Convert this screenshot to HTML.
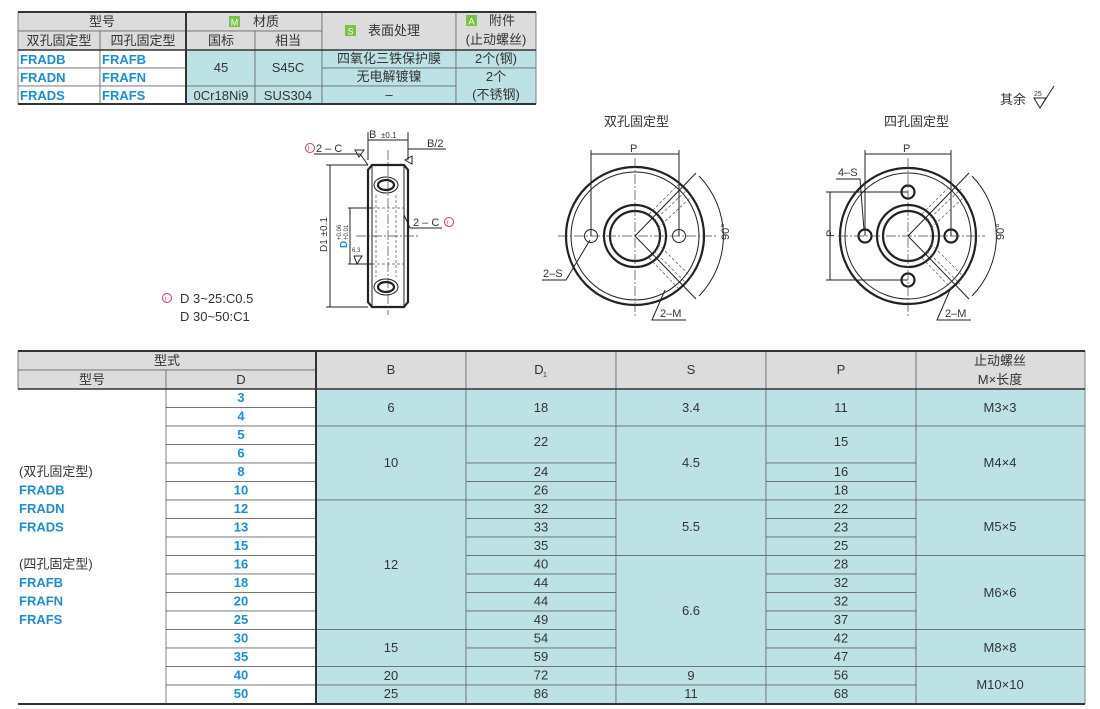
<!DOCTYPE html>
<html><head><meta charset="utf-8"><style>
html,body{margin:0;padding:0;background:#fff;width:1100px;height:709px;overflow:hidden}
svg{display:block}
text{font-family:"Liberation Sans","Noto Sans CJK SC",sans-serif;fill:#333}
text.b,.b text{fill:#1a8fd6;font-weight:bold}
.c{fill:#bde2e6;stroke:#666;stroke-width:0.8}
.w{fill:#fff;stroke:#666;stroke-width:0.8}
.h{fill:#dcdcdc;stroke:#666;stroke-width:0.8}
.l{stroke:#222;fill:none;stroke-width:1}
.t{stroke:#222;fill:none;stroke-width:2.2}
.d{stroke:#444;fill:none;stroke-width:0.7;stroke-dasharray:10 2 2 2}
.hd{stroke:#555;fill:none;stroke-width:0.7;stroke-dasharray:3 2}
</style></head><body>
<svg width="1100" height="709" viewBox="0 0 1100 709" font-size="13">
<!-- TOP TABLE -->
<g text-anchor="middle">
<rect class="h" x="18" y="12" width="168" height="19"/>
<rect class="h" x="18" y="31" width="82" height="19"/><rect class="h" x="100" y="31" width="86" height="19"/>
<rect class="h" x="186" y="12" width="136" height="19"/>
<rect class="h" x="186" y="31" width="69" height="19"/><rect class="h" x="255" y="31" width="67" height="19"/>
<rect class="h" x="322" y="12" width="134" height="38"/><rect class="h" x="456" y="12" width="80" height="38"/>
<text x="102" y="26">型号</text><text x="59" y="45">双孔固定型</text><text x="143" y="45">四孔固定型</text>
<rect x="229" y="16" width="11" height="11" fill="#7cc242"/><text x="234.5" y="25.5" font-size="9" style="fill:#fff">M</text><text x="266" y="26">材质</text>
<text x="221" y="45">国标</text><text x="288" y="45">相当</text>
<rect x="345" y="25" width="11" height="11" fill="#7cc242"/><text x="350.5" y="34.5" font-size="9" style="fill:#fff">S</text><text x="394" y="35">表面处理</text>
<rect x="466" y="15" width="11" height="11" fill="#7cc242"/><text x="471.5" y="24.5" font-size="9" style="fill:#fff">A</text><text x="502" y="25">附件</text>
<text x="496" y="44">(止动螺丝)</text>
<rect class="w" x="18" y="50" width="82" height="18"/><rect class="w" x="100" y="50" width="86" height="18"/>
<rect class="w" x="18" y="68" width="82" height="18"/><rect class="w" x="100" y="68" width="86" height="18"/>
<rect class="w" x="18" y="86" width="82" height="18"/><rect class="w" x="100" y="86" width="86" height="18"/>
<text class="b" text-anchor="start" x="20" y="64">FRADB</text><text class="b" text-anchor="start" x="102" y="64">FRAFB</text>
<text class="b" text-anchor="start" x="20" y="82">FRADN</text><text class="b" text-anchor="start" x="102" y="82">FRAFN</text>
<text class="b" text-anchor="start" x="20" y="100">FRADS</text><text class="b" text-anchor="start" x="102" y="100">FRAFS</text>
<rect class="c" x="186" y="50" width="69" height="36"/><rect class="c" x="255" y="50" width="67" height="36"/>
<rect class="c" x="186" y="86" width="69" height="18"/><rect class="c" x="255" y="86" width="67" height="18"/>
<rect class="c" x="322" y="50" width="134" height="18"/><rect class="c" x="322" y="68" width="134" height="18"/><rect class="c" x="322" y="86" width="134" height="18"/>
<rect class="c" x="456" y="50" width="80" height="18"/><rect class="c" x="456" y="68" width="80" height="36"/>
<text x="221" y="72">45</text><text x="288" y="72">S45C</text>
<text x="221" y="100">0Cr18Ni9</text><text x="288" y="100">SUS304</text>
<text x="389" y="63">四氧化三铁保护膜</text><text x="389" y="81">无电解镀镍</text><text x="389" y="99">–</text>
<text x="496" y="63">2个(钢)</text><text x="496" y="81">2个</text><text x="496" y="99">(不锈钢)</text>
</g>
<line x1="18" y1="12" x2="536" y2="12" stroke="#333" stroke-width="2"/>
<line x1="18" y1="50" x2="536" y2="50" stroke="#333" stroke-width="1.5"/>
<line x1="18" y1="104" x2="536" y2="104" stroke="#333" stroke-width="2"/>
<line x1="186" y1="12" x2="186" y2="104" stroke="#333" stroke-width="2"/>

<!-- 其余 -->
<text x="1000" y="104">其余</text><text x="1034" y="96" font-size="7">25</text>
<path class="l" d="M1034 98 L1046 98 L1040 108 Z M1040 108 L1054 86"/>

<!-- SIDE VIEW -->
<g font-size="12">
<path class="t" d="M372 165 L404 165 L408 170 L408 302 L404 307 L372 307 L368 302 L368 170 Z"/>
<line class="l" x1="372" y1="165" x2="372" y2="307"/><line class="l" x1="404" y1="165" x2="404" y2="307"/>
<line class="d" x1="388" y1="150" x2="388" y2="315"/><line class="d" x1="356" y1="236" x2="420" y2="236"/>
<ellipse class="t" cx="386" cy="185" rx="8" ry="5"/><ellipse class="l" cx="386" cy="185" rx="12" ry="8"/>
<ellipse class="t" cx="386" cy="287" rx="8" ry="5"/><ellipse class="l" cx="386" cy="287" rx="12" ry="8"/>
<line class="hd" x1="372" y1="208" x2="404" y2="208"/><line class="hd" x1="372" y1="264" x2="404" y2="264"/>
<line class="hd" x1="376" y1="195" x2="376" y2="277"/><line class="hd" x1="396" y1="195" x2="396" y2="277"/>
<line class="l" x1="348" y1="208" x2="372" y2="208"/><line class="l" x1="348" y1="264" x2="372" y2="264"/>
<line class="l" x1="350" y1="208" x2="350" y2="264"/>
<line class="l" x1="326" y1="165" x2="368" y2="165"/><line class="l" x1="326" y1="307" x2="368" y2="307"/>
<line class="l" x1="330" y1="165" x2="330" y2="307"/>
<line class="l" x1="368" y1="160" x2="368" y2="132"/><line class="l" x1="408" y1="160" x2="408" y2="132"/>
<line class="l" x1="368" y1="140" x2="408" y2="140"/><line class="l" x1="408" y1="149" x2="446" y2="149"/>
<text x="369" y="138" font-size="11">B</text><text x="381" y="138" font-size="8">±0.1</text>
<text x="427" y="147" font-size="11">B/2</text>
<text x="327" y="252" font-size="10" transform="rotate(-90 327 252)">D1 ±0.1</text>
<text x="347" y="248" font-size="10" class="b" transform="rotate(-90 347 248)">D</text>
<text x="341" y="240" font-size="6" transform="rotate(-90 341 240)">+0.06</text>
<text x="348" y="240" font-size="6" transform="rotate(-90 348 240)">+0.01</text>
<path class="l" d="M355 150 L364 150 L359 157 Z M354 256 L362 256 L357 264 Z M412 156 L412 164 L405 160 Z"/>
<text x="352" y="252" font-size="6">6.3</text>
<circle cx="310" cy="148" r="4.5" fill="none" stroke="#e0306a"/><text x="307.5" y="151" font-size="7" style="fill:#e0306a">!</text>
<text x="316" y="152" font-size="11">2 – C</text>
<line class="l" x1="314" y1="154" x2="360" y2="154"/><line class="l" x1="360" y1="154" x2="368" y2="165"/>
<text x="413" y="226" font-size="11">2 – C</text>
<circle cx="449" cy="222" r="4.5" fill="none" stroke="#e0306a"/><text x="446.5" y="225.5" font-size="7" style="fill:#e0306a">!</text>
<line class="l" x1="410" y1="228" x2="442" y2="228"/><line class="l" x1="410" y1="228" x2="404" y2="215"/>
<circle cx="167" cy="298" r="4.5" fill="none" stroke="#e0306a"/><text x="164.5" y="301.5" font-size="7" style="fill:#e0306a">!</text>
<text x="180" y="303" font-size="13">D 3~25:C0.5</text><text x="180" y="321" font-size="13">D 30~50:C1</text>
</g>

<!-- 双孔 -->
<text x="604" y="126" font-size="13">双孔固定型</text>
<g>
<circle class="t" cx="635" cy="236" r="69"/><circle class="l" cx="635" cy="236" r="64"/>
<circle class="t" cx="635" cy="236" r="31"/><circle class="t" cx="635" cy="236" r="25"/>
<circle class="l" cx="591" cy="236" r="6.5"/><circle class="l" cx="679" cy="236" r="6.5"/>
<line class="d" x1="558" y1="236" x2="716" y2="236"/><line class="d" x1="635" y1="158" x2="635" y2="318"/>
<line class="l" x1="591" y1="236" x2="591" y2="150"/><line class="l" x1="679" y1="236" x2="679" y2="150"/>
<line class="l" x1="591" y1="154" x2="679" y2="154"/><text x="630" y="152" font-size="11">P</text>
<line class="l" x1="635" y1="236" x2="696" y2="173"/><line class="l" x1="635" y1="236" x2="696" y2="299"/>
<path class="l" d="M699 176 A86 86 0 0 1 699 296"/>
<text x="722" y="247" font-size="11" transform="rotate(-90 722 240)">90°</text>
<path class="hd" d="M649 214 L681 182 M654 221 L688 189 M658 228 L692 196 M649 258 L679 289 M654 251 L687 284 M658 244 L691 277"/>
<text x="543" y="277" font-size="11">2–S</text><path class="l" d="M542 280 L566 280 L590 240"/>
<text x="660" y="317" font-size="11">2–M</text><path class="l" d="M686 320 L652 320 L665 290"/>
</g>

<!-- 四孔 -->
<text x="884" y="126" font-size="13">四孔固定型</text>
<g>
<circle class="t" cx="908" cy="236" r="68"/><circle class="l" cx="908" cy="236" r="63"/>
<circle class="t" cx="908" cy="236" r="31"/><circle class="t" cx="908" cy="236" r="25"/>
<circle class="t" cx="865" cy="236" r="6.5"/><circle class="t" cx="951" cy="236" r="6.5"/>
<circle class="t" cx="908" cy="192" r="6.5"/><circle class="t" cx="908" cy="280" r="6.5"/>
<line class="d" x1="838" y1="236" x2="985" y2="236"/><line class="d" x1="908" y1="158" x2="908" y2="318"/>
<line class="l" x1="865" y1="236" x2="865" y2="150"/><line class="l" x1="951" y1="236" x2="951" y2="150"/>
<line class="l" x1="865" y1="154" x2="951" y2="154"/><text x="903" y="152" font-size="11">P</text>
<line class="l" x1="908" y1="192" x2="826" y2="192"/><line class="l" x1="908" y1="280" x2="826" y2="280"/>
<line class="l" x1="830" y1="192" x2="830" y2="280"/><text x="835" y="242" font-size="11" transform="rotate(-90 832 240)">P</text>
<line class="l" x1="908" y1="236" x2="969" y2="173"/><line class="l" x1="908" y1="236" x2="969" y2="299"/>
<path class="l" d="M972 176 A86 86 0 0 1 972 296"/>
<text x="997" y="247" font-size="11" transform="rotate(-90 997 240)">90°</text>
<path class="hd" d="M922 214 L954 182 M927 221 L961 189 M931 228 L965 196 M922 258 L952 289 M927 251 L960 284 M931 244 L964 277"/>
<text x="838" y="176" font-size="11">4–S</text><path class="l" d="M836 179 L860 179 L864 230"/>
<text x="945" y="317" font-size="11">2–M</text><path class="l" d="M971 320 L937 320 L950 290"/>
</g>

<!-- BOTTOM TABLE -->
<g text-anchor="middle">
<rect class="h" x="18" y="351" width="298" height="19"/>
<rect class="h" x="18" y="370" width="148" height="19"/><rect class="h" x="166" y="370" width="150" height="19"/>
<rect class="h" x="316" y="351" width="150" height="38"/><rect class="h" x="466" y="351" width="150" height="38"/>
<rect class="h" x="616" y="351" width="150" height="38"/><rect class="h" x="766" y="351" width="150" height="38"/>
<rect class="h" x="916" y="351" width="169" height="38"/>
<text x="167" y="365">型式</text><text x="92" y="384">型号</text><text x="241" y="384">D</text>
<text x="391" y="374">B</text><text x="539" y="374">D</text><text x="545" y="377" font-size="7">1</text>
<text x="691" y="374">S</text><text x="841" y="374">P</text>
<text x="1000" y="365">止动螺丝</text><text x="1000" y="384">M×长度</text>

<g class="b">
<rect class="w" x="166" y="389" width="150" height="18.5"/><text x="241" y="402">3</text>
<rect class="w" x="166" y="407.5" width="150" height="18.5"/><text x="241" y="420.5">4</text>
<rect class="w" x="166" y="426" width="150" height="18.5"/><text x="241" y="439">5</text>
<rect class="w" x="166" y="444.5" width="150" height="18.5"/><text x="241" y="457.5">6</text>
<rect class="w" x="166" y="463" width="150" height="18.5"/><text x="241" y="476">8</text>
<rect class="w" x="166" y="481.5" width="150" height="18.5"/><text x="241" y="494.5">10</text>
<rect class="w" x="166" y="500" width="150" height="18.5"/><text x="241" y="513">12</text>
<rect class="w" x="166" y="518.5" width="150" height="18.5"/><text x="241" y="531.5">13</text>
<rect class="w" x="166" y="537" width="150" height="18.5"/><text x="241" y="550">15</text>
<rect class="w" x="166" y="555.5" width="150" height="18.5"/><text x="241" y="568.5">16</text>
<rect class="w" x="166" y="574" width="150" height="18.5"/><text x="241" y="587">18</text>
<rect class="w" x="166" y="592.5" width="150" height="18.5"/><text x="241" y="605.5">20</text>
<rect class="w" x="166" y="611" width="150" height="18.5"/><text x="241" y="624">25</text>
<rect class="w" x="166" y="629.5" width="150" height="18.5"/><text x="241" y="642.5">30</text>
<rect class="w" x="166" y="648" width="150" height="18.5"/><text x="241" y="661">35</text>
<rect class="w" x="166" y="666.5" width="150" height="18.5"/><text x="241" y="679.5">40</text>
<rect class="w" x="166" y="685" width="150" height="18.5"/><text x="241" y="698">50</text>
</g>
<g text-anchor="start">
<text x="19" y="476">(双孔固定型)</text>
<text class="b" x="19" y="494.5">FRADB</text><text class="b" x="19" y="513">FRADN</text><text class="b" x="19" y="531.5">FRADS</text>
<text x="19" y="568.5">(四孔固定型)</text>
<text class="b" x="19" y="587">FRAFB</text><text class="b" x="19" y="605.5">FRAFN</text><text class="b" x="19" y="624">FRAFS</text>
</g>
<!-- B -->
<rect class="c" x="316" y="389" width="150" height="37"/><text x="391" y="412">6</text>
<rect class="c" x="316" y="426" width="150" height="74"/><text x="391" y="467">10</text>
<rect class="c" x="316" y="500" width="150" height="129.5"/><text x="391" y="569">12</text>
<rect class="c" x="316" y="629.5" width="150" height="37"/><text x="391" y="652">15</text>
<rect class="c" x="316" y="666.5" width="150" height="18.5"/><text x="391" y="680">20</text>
<rect class="c" x="316" y="685" width="150" height="18.5"/><text x="391" y="698">25</text>
<!-- D1 -->
<rect class="c" x="466" y="389" width="150" height="37"/><text x="541" y="412">18</text>
<rect class="c" x="466" y="426" width="150" height="37"/><text x="541" y="446">22</text>
<rect class="c" x="466" y="463" width="150" height="18.5"/><text x="541" y="476">24</text>
<rect class="c" x="466" y="481.5" width="150" height="18.5"/><text x="541" y="494.5">26</text>
<rect class="c" x="466" y="500" width="150" height="18.5"/><text x="541" y="513">32</text>
<rect class="c" x="466" y="518.5" width="150" height="18.5"/><text x="541" y="531.5">33</text>
<rect class="c" x="466" y="537" width="150" height="18.5"/><text x="541" y="550">35</text>
<rect class="c" x="466" y="555.5" width="150" height="18.5"/><text x="541" y="568.5">40</text>
<rect class="c" x="466" y="574" width="150" height="18.5"/><text x="541" y="587">44</text>
<rect class="c" x="466" y="592.5" width="150" height="18.5"/><text x="541" y="605.5">44</text>
<rect class="c" x="466" y="611" width="150" height="18.5"/><text x="541" y="624">49</text>
<rect class="c" x="466" y="629.5" width="150" height="18.5"/><text x="541" y="642.5">54</text>
<rect class="c" x="466" y="648" width="150" height="18.5"/><text x="541" y="661">59</text>
<rect class="c" x="466" y="666.5" width="150" height="18.5"/><text x="541" y="679.5">72</text>
<rect class="c" x="466" y="685" width="150" height="18.5"/><text x="541" y="698">86</text>
<!-- S -->
<rect class="c" x="616" y="389" width="150" height="37"/><text x="691" y="412">3.4</text>
<rect class="c" x="616" y="426" width="150" height="74"/><text x="691" y="467">4.5</text>
<rect class="c" x="616" y="500" width="150" height="55.5"/><text x="691" y="531">5.5</text>
<rect class="c" x="616" y="555.5" width="150" height="111"/><text x="691" y="615">6.6</text>
<rect class="c" x="616" y="666.5" width="150" height="18.5"/><text x="691" y="680">9</text>
<rect class="c" x="616" y="685" width="150" height="18.5"/><text x="691" y="698">11</text>
<!-- P -->
<rect class="c" x="766" y="389" width="150" height="37"/><text x="841" y="412">11</text>
<rect class="c" x="766" y="426" width="150" height="37"/><text x="841" y="446">15</text>
<rect class="c" x="766" y="463" width="150" height="18.5"/><text x="841" y="476">16</text>
<rect class="c" x="766" y="481.5" width="150" height="18.5"/><text x="841" y="494.5">18</text>
<rect class="c" x="766" y="500" width="150" height="18.5"/><text x="841" y="513">22</text>
<rect class="c" x="766" y="518.5" width="150" height="18.5"/><text x="841" y="531.5">23</text>
<rect class="c" x="766" y="537" width="150" height="18.5"/><text x="841" y="550">25</text>
<rect class="c" x="766" y="555.5" width="150" height="18.5"/><text x="841" y="568.5">28</text>
<rect class="c" x="766" y="574" width="150" height="18.5"/><text x="841" y="587">32</text>
<rect class="c" x="766" y="592.5" width="150" height="18.5"/><text x="841" y="605.5">32</text>
<rect class="c" x="766" y="611" width="150" height="18.5"/><text x="841" y="624">37</text>
<rect class="c" x="766" y="629.5" width="150" height="18.5"/><text x="841" y="642.5">42</text>
<rect class="c" x="766" y="648" width="150" height="18.5"/><text x="841" y="661">47</text>
<rect class="c" x="766" y="666.5" width="150" height="18.5"/><text x="841" y="679.5">56</text>
<rect class="c" x="766" y="685" width="150" height="18.5"/><text x="841" y="698">68</text>
<!-- M -->
<rect class="c" x="916" y="389" width="169" height="37"/><text x="1000" y="412">M3×3</text>
<rect class="c" x="916" y="426" width="169" height="74"/><text x="1000" y="467">M4×4</text>
<rect class="c" x="916" y="500" width="169" height="55.5"/><text x="1000" y="531">M5×5</text>
<rect class="c" x="916" y="555.5" width="169" height="74"/><text x="1000" y="597">M6×6</text>
<rect class="c" x="916" y="629.5" width="169" height="37"/><text x="1000" y="652">M8×8</text>
<rect class="c" x="916" y="666.5" width="169" height="37"/><text x="1000" y="689">M10×10</text>
</g>
<line x1="18" y1="351" x2="1085" y2="351" stroke="#333" stroke-width="2"/>
<line x1="18" y1="389" x2="1085" y2="389" stroke="#333" stroke-width="1.5"/>
<line x1="18" y1="704" x2="1085" y2="704" stroke="#333" stroke-width="2"/>
<line x1="316" y1="351" x2="316" y2="704" stroke="#333" stroke-width="2"/>
</svg>
</body></html>
